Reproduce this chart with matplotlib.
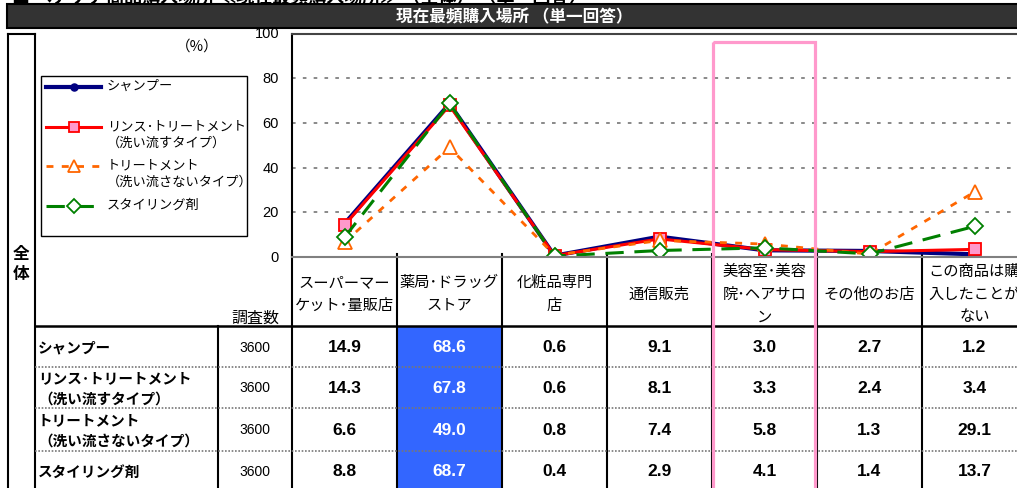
import matplotlib.pyplot as plt
from matplotlib.lines import Line2D
from matplotlib.patches import Rectangle

# ==========================================================
# Data
# ==========================================================

categories = [
    "スーパーマー\nケット･量販店",
    "薬局･ドラッグ\nストア",
    "化粧品専門\n店",
    "通信販売",
    "美容室･美容\n院･ヘアサロ\nン",
    "その他のお店",
    "この商品は購\n入したことが\nない",
]

series_names = ["シャンプー", "リンス･トリートメント\n（洗い流すタイプ）",
                "トリートメント\n（洗い流さないタイプ）", "スタイリング剤"]
row_labels = ["シャンプー", "リンス･トリートメント\n（洗い流すタイプ）",
              "トリートメント\n（洗い流さないタイプ）", "スタイリング剤"]
sample_n = [3600, 3600, 3600, 3600]

shampoo = [14.9, 68.6, 0.6, 9.1, 3.0, 2.7, 1.2]
rinse = [14.3, 67.8, 0.6, 8.1, 3.3, 2.4, 3.4]
treatment = [6.6, 49.0, 0.8, 7.4, 5.8, 1.3, 29.1]
styling = [8.8, 68.7, 0.4, 2.9, 4.1, 1.4, 13.7]

values = [shampoo, rinse, treatment, styling]
y_ticks = [0, 20, 40, 60, 80, 100]

JP = ["Noto Sans CJK JP", "DejaVu Sans"]
NUM = ["Liberation Sans", "DejaVu Sans"]

styles = [
    dict(color="#000080", lw=3.0, ls="-", marker="o", ms=6,
         mfc="#000080", mec="#000080"),
    dict(color="#FF0000", lw=2.2, ls="-", marker="s", ms=9,
         mfc="#FF99CC", mec="#FF0000", mew=1.3),
    dict(color="#FF6600", lw=2.0, ls=(0, (2.5, 3)), marker="^", ms=10,
         mfc="white", mec="#FF6600", mew=1.3),
    dict(color="#008000", lw=2.2, ls=(0, (6, 3.5)), marker="D", ms=8,
         mfc="white", mec="#008000", mew=1.3),
]

# ==========================================================
# Figure / background canvas in pixels
# ==========================================================

W, H = 1017, 489
fig = plt.figure(figsize=(W / 100, H / 100), dpi=100)

bg = fig.add_axes([0, 0, 1, 1], zorder=0)
bg.set_xlim(0, W)
bg.set_ylim(H, 0)
bg.axis("off")

plot_left, plot_top, plot_bottom = 292, 34.5, 258
col_w = 105
n_cols = len(categories)

# cut-off heading at the very top
bg.text(12, -3, "■ ヘアケア商品購入場所 ≪現在最頻購入場所≫ （全体） 〈単一回答〉",
        ha="left", va="center", fontsize=13, fontweight="bold", family=JP)

# dark title band
bg.add_patch(Rectangle((7, 5), W, 24, fc="#333333", ec="black", lw=1.5))
bg.text(514, 17, "現在最頻購入場所 （単一回答）", ha="center", va="center",
        color="white", fontsize=12, fontweight="bold", family=JP)

# ==========================================================
# Line chart
# ==========================================================

ax = fig.add_axes([plot_left / W, (H - plot_bottom) / H,
                   col_w * n_cols / W, (plot_bottom - plot_top) / H], zorder=2)
ax.patch.set_alpha(0)

x = list(range(n_cols))
for vals, st in zip(values, styles):
    ax.plot(x, vals, **st)

ax.set_xlim(-0.5, n_cols - 0.5)
ax.set_ylim(0, 100)
ax.set_xticks([])
ax.set_yticks(y_ticks[1:-1])
ax.set_yticklabels([])
ax.yaxis.grid(True, ls=(0, (2, 4)), color="#808080", lw=1.3)
ax.tick_params(length=0)
ax.spines["left"].set_color("black")
ax.spines["left"].set_linewidth(1.5)
ax.spines["bottom"].set_color("#808080")
ax.spines["bottom"].set_linewidth(1.5)
ax.spines["top"].set_color("#444444")
ax.spines["top"].set_linewidth(1.5)
ax.spines["top"].set_linestyle((0, (2, 1)))
ax.spines["right"].set_visible(False)

for t in y_ticks:
    ax.text(-0.5 - 13 / col_w, t, str(t), ha="right", va="center",
            fontsize=10.5, family=NUM, transform=ax.transData, clip_on=False)

bg.text(197, 47, "（%）", ha="center", va="center", fontsize=10.5, family=JP)

# ==========================================================
# Legend (drawn by hand to mimic the Excel legend)
# ==========================================================

bg.add_patch(Rectangle((41, 77), 206, 160, fc="white", ec="black", lw=1.0,
                       zorder=3))
leg_rows = [88, 128, 167, 207]
for name, st, yy in zip(series_names, styles, leg_rows):
    s = dict(st)
    bg.add_line(Line2D([46, 101], [yy, yy], zorder=4,
                       **{k: v for k, v in s.items() if k not in
                          ("marker", "ms", "mfc", "mec", "mew")}))
    bg.add_line(Line2D([73.5], [yy], zorder=5, ls="none",
                       marker=s["marker"], ms=s["ms"] * 0.85, mfc=s["mfc"],
                       mec=s["mec"], mew=s.get("mew", 1)))
    bg.text(107, yy - 8, name, ha="left", va="top", fontsize=9.5,
            family=JP, linespacing=1.35, zorder=5)

# ==========================================================
# Table
# ==========================================================

row_edges = [327, 368, 409, 452, 495]

# blue highlight on the top column
bg.add_patch(Rectangle((plot_left + col_w, 327), col_w, 170, fc="#3366FF",
                       ec="none"))

# frame lines
bg.plot([8, 8], [35, H], color="black", lw=1.5)
bg.plot([35, 35], [35, H], color="black", lw=1.5)
bg.plot([8, 35], [35, 35], color="black", lw=1.5)
bg.plot([35, W], [327, 327], color="black", lw=1.8)
bg.plot([218, 218], [327, H], color="black", lw=1.5)
for i in range(n_cols + 1):
    xx = plot_left + i * col_w
    bg.plot([xx, xx], [255, H], color="black", lw=1.5)
for yy in row_edges[1:-1]:
    bg.plot([35, W], [yy, yy], color="#777777", lw=1.2, ls=(0, (1, 1)))

bg.text(21, 264, "全\n体", ha="center", va="center", fontsize=12,
        fontweight="bold", family=JP, linespacing=1.2)
bg.text(255, 318, "調査数", ha="center", va="center", fontsize=11.5,
        family=JP)

for i, cat in enumerate(categories):
    cx = plot_left + (i + 0.5) * col_w
    bg.text(cx, 294, cat, ha="center", va="center", fontsize=11,
            family=JP, linespacing=1.45)

for r in range(len(row_labels)):
    cy = (row_edges[r] + row_edges[r + 1]) / 2
    if r == 3:
        cy = 472
    bg.text(38, cy, row_labels[r], ha="left", va="center", fontsize=10.5,
            fontweight="bold", family=JP, linespacing=1.35)
    bg.text(255, cy, str(sample_n[r]), ha="center", va="center",
            fontsize=10, family=NUM)
    for i in range(n_cols):
        cx = plot_left + (i + 0.5) * col_w
        bg.text(cx, cy, f"{values[r][i]:.1f}", ha="center", va="center",
                fontsize=12.5, fontweight="bold", family=NUM,
                color="white" if i == 1 else "black")

# pink frame on the salon column
fig.add_artist(Rectangle((713, 43), 102, 470, transform=bg.transData,
                         fill=False, ec="#FF99CC", lw=2.3, zorder=10))

fig.savefig("out.png", dpi=100)
